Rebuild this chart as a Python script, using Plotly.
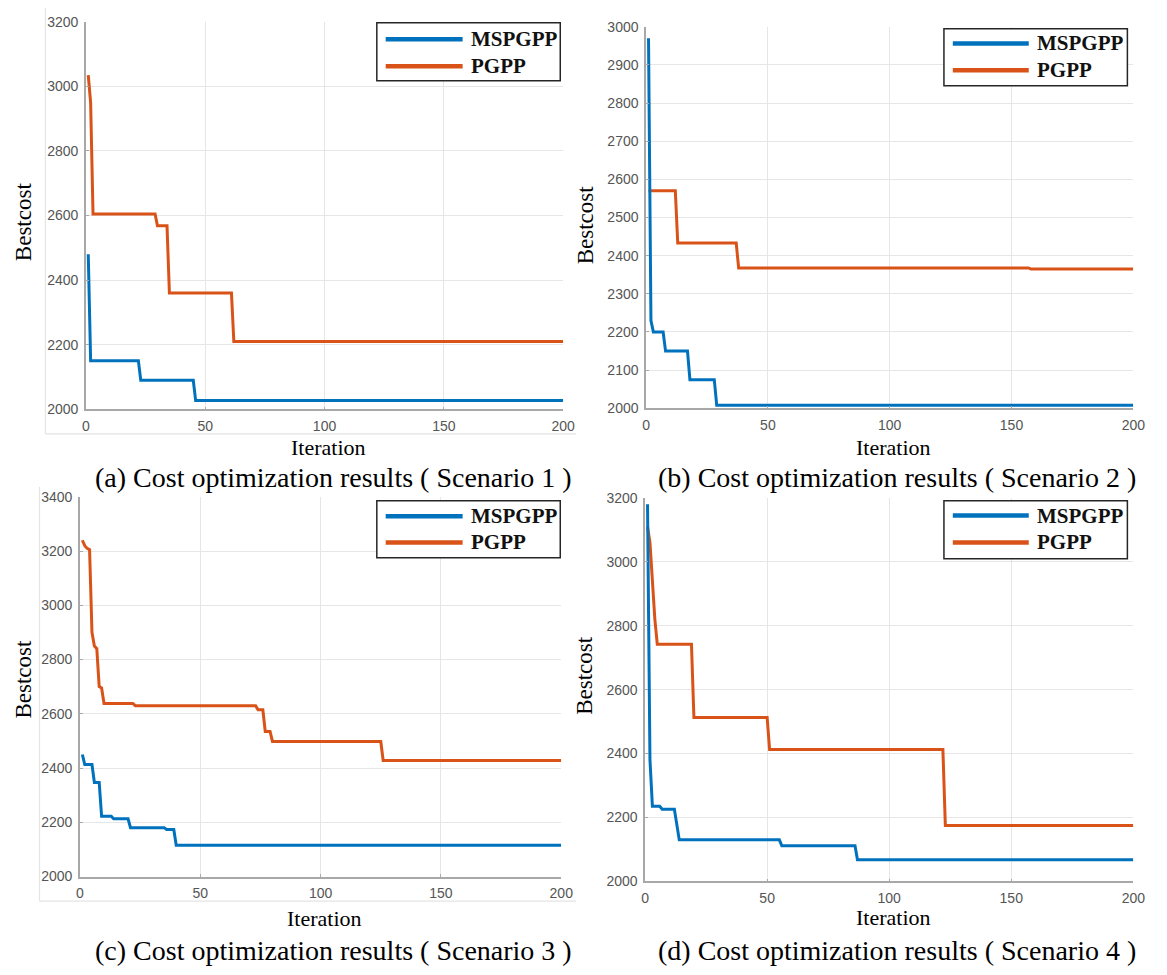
import plotly.graph_objects as go

# ---- convergence data (iteration, best cost at each change point) ----
iter_ticks = [0, 50, 100, 150, 200]

a_mspgpp_x = [1, 2, 22, 23, 45, 46, 200]
a_mspgpp_y = [2480, 2150, 2150, 2090, 2090, 2027, 2027]
a_pgpp_x = [1, 2, 3, 29, 30, 34, 35, 61, 62, 200]
a_pgpp_y = [3035, 2950, 2605, 2605, 2568, 2568, 2360, 2360, 2210, 2210]

b_mspgpp_x = [1, 2, 3, 7, 8, 17, 18, 28, 29, 200]
b_mspgpp_y = [2970, 2230, 2200, 2200, 2150, 2150, 2075, 2075, 2008, 2008]
b_pgpp_x = [1, 12, 13, 37, 38, 157, 158, 200]
b_pgpp_y = [2570, 2570, 2433, 2433, 2368, 2368, 2365, 2365]

c_mspgpp_x = [1, 2, 5, 6, 8, 9, 13, 14, 20, 21, 35, 36, 39, 40, 200]
c_mspgpp_y = [2450, 2413, 2413, 2347, 2347, 2222, 2222, 2213, 2213, 2180, 2180, 2173, 2173, 2115, 2115]
c_pgpp_x = [1, 2, 3, 4, 5, 6, 7, 8, 9, 10, 22, 23, 73, 74, 76, 77, 79, 80, 125, 126, 200]
c_pgpp_y = [3240, 3220, 3210, 3205, 2900, 2850, 2840, 2700, 2695, 2638, 2638, 2630, 2630, 2615, 2615,
            2535, 2535, 2498, 2498, 2428, 2428]

d_mspgpp_x = [1, 2, 3, 6, 7, 12, 14, 55, 56, 86, 87, 200]
d_mspgpp_y = [3180, 2380, 2235, 2235, 2226, 2226, 2130, 2130, 2112, 2112, 2068, 2068]
d_pgpp_x = [1, 2, 3, 4, 5, 19, 20, 50, 51, 122, 123, 200]
d_pgpp_y = [3110, 3060, 2940, 2820, 2742, 2742, 2513, 2513, 2413, 2413, 2175, 2175]

y_ranges = [[2000, 3200], [2000, 3000], [2000, 3400], [2000, 3200]]
y_dticks = [200, 100, 200, 200]
captions = [
    "(a) Cost optimization results ( Scenario 1 )",
    "(b) Cost optimization results ( Scenario 2 )",
    "(c) Cost optimization results ( Scenario 3 )",
    "(d) Cost optimization results ( Scenario 4 )",
]
series_names = ["MSPGPP", "PGPP"]

# ---- page geometry (pixels) ----
W, H = 1167, 975
BLUE = "#0072BD"
ORANGE = "#D95319"
SERIF = "Liberation Serif, Times New Roman, serif"
SANS = "Liberation Sans, Arial, sans-serif"

# plot boxes: left, right, top, bottom
boxes = [(83, 567, 14, 408), (651, 1145, 19, 407), (77, 565, 497, 883), (650, 1145, 498, 888)]
xlab_y = [447, 447, 926, 925]
cap_pos = [(334, 477), (905, 477), (334, 958), (905, 958)]
ylab_pos = [(20, 217), (589, 220), (20, 682), (589, 678)]
# legend box: left, right, top, bottom ; line x0, x1 ; rows y ; text x
legends = [
    (378, 564, 15, 74, 387, 465, (31.7, 59.3), 471),
    (953, 1139, 21, 79, 962, 1039, (36, 63.3), 1045),
    (378, 564, 501, 559, 387, 465, (516.7, 543.3), 471),
    (953, 1139, 501, 560, 962, 1039, (516, 543.3), 1045),
]
# faint outer figure frames (left x, bottom y, top y, right x) for the left column
frames = [(42, 433, 0, 580), (36, 908, 487, 580)]


def px(x):
    return x / W


def py(y):
    return 1 - y / H


panels = [
    (a_mspgpp_x, a_mspgpp_y, a_pgpp_x, a_pgpp_y),
    (b_mspgpp_x, b_mspgpp_y, b_pgpp_x, b_pgpp_y),
    (c_mspgpp_x, c_mspgpp_y, c_pgpp_x, c_pgpp_y),
    (d_mspgpp_x, d_mspgpp_y, d_pgpp_x, d_pgpp_y),
]

fig = go.Figure()
layout = dict(
    width=W, height=H,
    margin=dict(l=0, r=0, t=0, b=0),
    paper_bgcolor="white", plot_bgcolor="white",
    showlegend=False,
)
annotations = []
shapes = []

for fl, fb, ft, fr in frames:
    shapes.append(dict(type="line", xref="paper", yref="paper", x0=px(fl), x1=px(fl),
                       y0=py(fb), y1=py(ft), line=dict(color="#e4e4e4", width=1.2), layer="below"))
    shapes.append(dict(type="line", xref="paper", yref="paper", x0=px(fl), x1=px(fr),
                       y0=py(fb), y1=py(fb), line=dict(color="#e4e4e4", width=1.2), layer="below"))

for i, (mx, my, ox, oy) in enumerate(panels):
    n = "" if i == 0 else str(i + 1)
    xa, ya = "x" + n, "y" + n
    fig.add_trace(go.Scatter(x=ox, y=oy, mode="lines", name=series_names[1],
                             line=dict(color=ORANGE, width=3), xaxis=xa, yaxis=ya))
    fig.add_trace(go.Scatter(x=mx, y=my, mode="lines", name=series_names[0],
                             line=dict(color=BLUE, width=3), xaxis=xa, yaxis=ya))

    l, r, t, b = boxes[i]
    layout["xaxis" + n] = dict(
        domain=[px(l), px(r)], anchor=ya, range=[0, 200], tickvals=iter_ticks,
        showgrid=True, gridcolor="#e6e6e6", gridwidth=1,
        showline=True, linecolor="#a8a8a8", linewidth=1.5, zeroline=False,
        ticks="inside", ticklen=3, tickcolor="#a8a8a8",
        tickfont=dict(family=SANS, size=14, color="#555555"), ticklabelstandoff=3,
    )
    layout["yaxis" + n] = dict(
        domain=[py(b), py(t)], anchor=xa, range=y_ranges[i], dtick=y_dticks[i],
        showgrid=True, gridcolor="#e6e6e6", gridwidth=1,
        showline=True, linecolor="#a8a8a8", linewidth=1.5, zeroline=False,
        ticks="inside", ticklen=3, tickcolor="#a8a8a8",
        tickfont=dict(family=SANS, size=14, color="#555555"), ticklabelstandoff=3,
    )

    cx = (l + r) / 2
    annotations.append(dict(text="Iteration", x=px(cx + 4), y=py(xlab_y[i]), xref="paper", yref="paper",
                            xanchor="center", yanchor="middle", showarrow=False,
                            font=dict(family=SERIF, size=22, color="black")))
    capx, capy = cap_pos[i]
    annotations.append(dict(text=captions[i], x=px(capx), y=py(capy), xref="paper", yref="paper",
                            xanchor="center", yanchor="middle", showarrow=False,
                            font=dict(family=SERIF, size=28, color="black")))
    yx, yy = ylab_pos[i]
    annotations.append(dict(text="Bestcost", x=px(yx), y=py(yy), xref="paper", yref="paper",
                            xanchor="center", yanchor="middle", showarrow=False, textangle=-90,
                            font=dict(family=SERIF, size=23, color="black")))

    # legend box
    lx0, lx1, lt, lb, sx0, sx1, rows, tx = legends[i]
    shapes.append(dict(type="rect", xref="paper", yref="paper",
                       x0=px(lx0), x1=px(lx1), y0=py(lb), y1=py(lt),
                       line=dict(color="#262626", width=1.5), fillcolor="white", layer="above"))
    for name, col, ry in zip(series_names, [BLUE, ORANGE], rows):
        shapes.append(dict(type="line", xref="paper", yref="paper",
                           x0=px(sx0), x1=px(sx1), y0=py(ry), y1=py(ry),
                           line=dict(color=col, width=4.5), layer="above"))
        annotations.append(dict(text="<b>" + name + "</b>", x=px(tx), y=py(ry), xref="paper", yref="paper",
                                xanchor="left", yanchor="middle", showarrow=False,
                                font=dict(family=SERIF, size=21, color="#111111")))

layout["annotations"] = annotations
layout["shapes"] = shapes
fig.update_layout(**layout)
fig.write_html("out.html")
